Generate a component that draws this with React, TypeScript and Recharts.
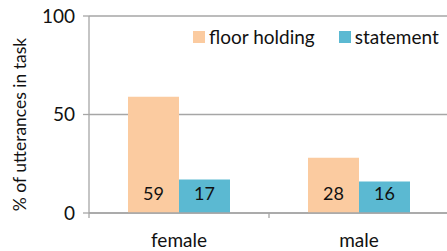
import { BarChart, Bar, XAxis, YAxis, CartesianGrid, Legend, LabelList, ReferenceLine } from "recharts";

const categories = ["female", "male"];
const floorHolding = [59, 28];
const statement = [17, 16];
const yTicks = [0, 50, 100];
const yTitle = "% of utterances in task";

const data = categories.map((name, i) => ({
    name,
    floor: floorHolding[i],
    statement: statement[i],
}));

const axisColor = "#a6a6a6";
const textColor = "#111";
const font = "Lato, 'Open Sans', sans-serif";

const chartHeight = 251;
const topMargin = 16;
const xAxisHeight = 38;

const renderLegend = (props: any) => {
    const { payload } = props;
    return (
        <div style={{ display: "flex", alignItems: "center", fontFamily: font, fontSize: 19, color: textColor }}>
            {(payload || []).map((entry: any, i: number) => (
                <div key={i} style={{ display: "flex", alignItems: "center", marginRight: i === 0 ? 24 : 0 }}>
                    <span style={{ width: 12, height: 12, background: entry.color, display: "inline-block", marginRight: 4 }} />
                    <span>{entry.value}</span>
                </div>
            ))}
        </div>
    );
};

// rotated axis title, sits a bit below the plot middle like the original
const YTitle = () => {
    const cx = 19;
    const cy = topMargin + (chartHeight - topMargin - xAxisHeight) / 2 + 10;
    return (
        <text
            x={cx}
            y={cy}
            transform={`rotate(-90, ${cx}, ${cy})`}
            textAnchor="middle"
            dominantBaseline="central"
            fill={textColor}
            fontSize={17.5}
            fontFamily={font}
        >
            {yTitle}
        </text>
    );
};

export default function App() {
    return (
        <div style={{ position: "absolute", left: 0, top: 0, width: 447, height: chartHeight, overflow: "hidden", background: "#fff" }}>
            <BarChart
                width={452}
                height={chartHeight}
                data={data}
                margin={{ top: topMargin, right: 3, left: 0, bottom: 0 }}
                barGap={0}
                barCategoryGap={39}
                style={{ fontFamily: font }}
            >
                <CartesianGrid horizontal vertical={false} stroke={axisColor} strokeWidth={1.3} />
                <XAxis
                    dataKey="name"
                    height={xAxisHeight}
                    axisLine={{ stroke: axisColor, strokeWidth: 1.3 }}
                    tickLine={false}
                    tickSize={0}
                    tickMargin={21}
                    tick={{ fill: textColor, fontSize: 19, fontFamily: font }}
                />
                <YAxis
                    width={89}
                    domain={[0, 100]}
                    ticks={yTicks}
                    axisLine={{ stroke: axisColor, strokeWidth: 1.3 }}
                    tickLine={{ stroke: axisColor, strokeWidth: 1.3 }}
                    tickSize={6}
                    tickMargin={8}
                    tick={{ fill: textColor, fontSize: 19, fontFamily: font }}
                    label={<YTitle />}
                />
                <Legend
                    layout="horizontal"
                    verticalAlign="middle"
                    align="center"
                    content={renderLegend}
                    wrapperStyle={{ top: 25, left: 193, width: "auto" }}
                />
                {categories.map((c) => (
                    <ReferenceLine
                        key={c}
                        segment={[{ x: c, y: 0 }, { x: c, y: -2.6 }]}
                        position="end"
                        stroke={axisColor}
                        strokeWidth={1.3}
                        ifOverflow="visible"
                    />
                ))}
                <ReferenceLine
                    segment={[{ x: categories[0], y: 0 }, { x: categories[0], y: -2.6 }]}
                    position="start"
                    stroke={axisColor}
                    strokeWidth={1.3}
                    ifOverflow="visible"
                />
                <Bar dataKey="floor" name="floor holding" fill="#fbcba0" isAnimationActive={false}>
                    <LabelList dataKey="floor" position="insideBottom" offset={13} fill={textColor} fontSize={18} fontFamily={font} />
                </Bar>
                <Bar dataKey="statement" name="statement" fill="#5bb9d2" isAnimationActive={false}>
                    <LabelList dataKey="statement" position="insideBottom" offset={13} fill={textColor} fontSize={18} fontFamily={font} />
                </Bar>
            </BarChart>
        </div>
    );
}
